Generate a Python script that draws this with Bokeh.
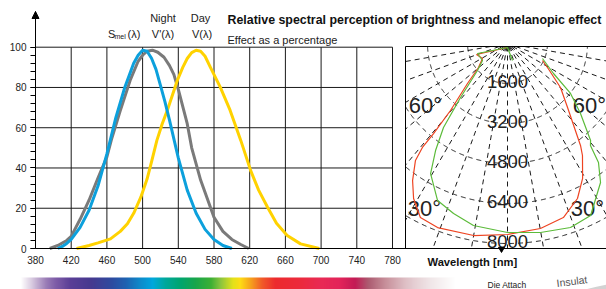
import numpy as np
from bokeh.plotting import figure
from bokeh.models import Range1d, FixedTicker, Arrow, NormalHead
from bokeh.core.properties import value
from bokeh.embed import file_html
from bokeh.resources import INLINE

# ---------------- data ----------------
WAVELENGTH_TICKS = [380, 420, 460, 500, 540, 580, 620, 660, 700, 740, 780]
EFFECT_TICKS = [0, 20, 40, 60, 80, 100]
EFFECT_MINOR = list(range(0, 101, 4))

# melanopic S_mel(lambda)
mel_nm = [405, 410, 415, 420, 430, 440, 450, 460, 470, 480, 490, 495, 500, 505, 510, 515,
          520, 525, 530, 540, 550, 560, 570, 580, 590, 600]
mel_val = [0, 1, 2.5, 4.5, 10.5, 19, 31, 47, 65, 80, 92, 96, 98.5, 98, 94.5, 89,
           81, 73, 64, 45, 29, 17.5, 9.5, 4.5, 1.5, 0]

# night V'(lambda)
night_nm = [396, 405, 415, 420, 430, 440, 450, 460, 465, 475, 486, 495, 500, 505, 511, 517,
            524, 530, 535, 540, 550, 555, 565, 580, 590, 600, 610, 619]
night_val = [0, 1.5, 4, 6, 14.5, 24, 35, 45.5, 54, 68.5, 83.5, 93, 96, 98, 98.5, 97.5,
             95, 91, 86.5, 79, 62, 50, 34, 15.5, 8.5, 4.5, 2, 0]

# day V(lambda)
day_nm = [426, 440, 450, 464, 475, 483, 490, 498, 505, 510, 516, 522, 528, 534, 539, 545,
          550, 555, 560, 565, 570, 576, 587, 598, 610, 621, 630, 640, 650, 662, 677, 698]
day_val = [0, 1.5, 2.8, 4.8, 8.5, 12.3, 17.5, 25.5, 34.5, 43, 53.7, 62, 69, 77, 83.6, 90,
           94.4, 97.3, 98.5, 98, 95.5, 90, 80.2, 68.7, 53.7, 38.8, 29, 20.5, 12.5, 6.5, 2.3, 0]

# colour band under the axis (wavelength position, colour)
spectrum_nm = [363.2, 374.4, 391.2, 402.4, 419.2, 441.6, 464.0, 480.8, 497.6, 511.1, 525.7,
               542.5, 559.3, 576.1, 587.3, 600.7, 609.7, 620.9, 634.3, 648.9, 676.9, 699.3,
               721.7, 738.5, 753.1, 772.2, 794.6, 822.6, 850.6]
spectrum_col = ["#ffffff", "#dccfe3", "#9b7db7", "#7d5ba7", "#5b3f97", "#47398f", "#2f4a9f",
                "#1f63b2", "#0d8dcd", "#00a8df", "#00a89c", "#00a56f", "#1aa64b", "#3db035",
                "#8dc63f", "#e4e21b", "#ffdd15", "#f7a51c", "#f15a29", "#ed2b2e", "#ec2a3d",
                "#e92a55", "#e3245a", "#c31b55", "#ad5b71", "#c8909b", "#dfc1c7", "#f0e6e8",
                "#ffffff"]

# light distribution curves (angle from nadir in degrees, intensity in cd)
red_angle = [0, -70.5, -59.0, -50.4, -45.0, -40.4, -39.4, -39.3, -38.2, -34.7, -31.2, -26.6,
             -20.8, -10.0, 0, 10.1, 17.8, 24.3, 29.1, 33.8, 35.6, 43.2, 50.3, 59.0, 64.1]
red_cd = [160, 1316, 1166, 1506, 2263, 3519, 4660, 5373, 5953, 6669, 7251, 7782,
          7875, 7800, 7640, 7517, 7312, 6803, 6177, 5391, 5017, 3509, 2755, 1866, 1556]
green_angle = [16.4, 0, -71.6, -55.8, -48.0, -41.0, -37.3, -33.9, -30.6, -24.0, -17.6, -10.6,
               0, 9.9, 18.9, 25.8, 33.8, 37.4, 39.1, 40.6, 46.2, 51.6, 56.9, 66.8]
green_cd = [709, 160, 1265, 1209, 1615, 2864, 4224, 5159, 6044, 6876, 7135, 7406,
            7560, 7675, 7780, 7640, 6690, 5992, 5260, 5107, 4045, 3217, 2197, 1523]

POLAR_RINGS = [1600, 3200, 4800, 6400, 8000]
POLAR_RING_LABELS = ["1600", "3200", "4800", "6400", "8000"]
POLAR_SPOKES = list(range(-80, 81, 10))
ANGLE_LABELS = ["60°", "60°", "30°", "30°"]

# ---------------- layout ----------------
W, H = 606, 289
PAGE = 0
AX_X_PX, AX_Y_PX = 35, 248          # page px of (380 nm, 0 %)
NM_PX, PCT_PX = 0.8925, 2.013
X0 = 380 - (AX_X_PX - PAGE) / NM_PX
X1 = 380 + (PAGE + W - AX_X_PX) / NM_PX
Y1 = (AX_Y_PX - PAGE) / PCT_PX
Y0 = -(PAGE + H - AX_Y_PX) / PCT_PX


def nm_at(px):
    return 380 + (px - AX_X_PX) / NM_PX


def pct_at(py):
    return (AX_Y_PX - py) / PCT_PX


# polar panel geometry
PC_X, PC_Y = 507, 43                 # page px of polar centre
CD_PX = 40.0                         # cd per pixel
PX0 = (PAGE - PC_X) * CD_PX
PX1 = (PAGE + W - PC_X) * CD_PX
PY1 = (PC_Y - PAGE) * CD_PX
PY0 = (PC_Y - PAGE - H) * CD_PX


def cx(px):
    return (px - PC_X) * CD_PX


def cy(py):
    return (PC_Y - py) * CD_PX


BOX_L, BOX_R, BOX_T, BOX_B = cx(405), PX1 + 400, cy(46), cy(248)

FONT = value("Liberation Sans")
INK = "#1a1a1a"

p = figure(width=W, height=H, x_range=Range1d(X0, X1), y_range=Range1d(Y0, Y1),
           output_backend="svg", toolbar_location=None, min_border=0,
           outline_line_color=None, background_fill_color="white",
           border_fill_color="white")
p.extra_x_ranges = {"polar": Range1d(PX0, PX1)}
p.extra_y_ranges = {"polar": Range1d(PY0, PY1)}
p.xgrid.visible = False
p.ygrid.visible = False

# colour band
N = 440
cols = np.linspace(spectrum_nm[0], spectrum_nm[-1], N)
stop_rgb = np.array([[int(c[i:i + 2], 16) for i in (1, 3, 5)] for c in spectrum_col], float)
img = np.empty((1, N), dtype=np.uint32)
view = img.view(dtype=np.uint8).reshape((1, N, 4))
for k in range(3):
    view[0, :, k] = np.interp(cols, spectrum_nm, stop_rgb[:, k]).astype(np.uint8)
view[0, :, 3] = 255
p.image_rgba(image=[img], x=spectrum_nm[0], y=Y0, dw=spectrum_nm[-1] - spectrum_nm[0],
             dh=pct_at(277) - Y0)

# grey swoosh + small texts at the bottom right
p.ellipse(x=[nm_at(614)], y=[pct_at(303)], width=[150], height=[40], angle=[0.17],
          width_units="screen", height_units="screen",
          fill_color="#d2d2d2", line_color=None)
p.text(x=[nm_at(556)], y=[pct_at(282.5)], text=["Insulat"], angle=[0.12],
       text_font=FONT, text_font_size="10.5px", text_color="#555555",
       text_baseline="alphabetic", text_align="left")
p.text(x=[nm_at(487)], y=[pct_at(284.5)], text=["Die Attach"], text_font=FONT,
       text_font_size="8.5px", text_color="#222222", text_baseline="middle", text_align="left")

# main grid
gx = WAVELENGTH_TICKS[1:]
p.segment(x0=gx, y0=[0] * len(gx), x1=gx, y1=[100] * len(gx), line_color=INK, line_width=1)
gy = EFFECT_TICKS[1:]
p.segment(x0=[380] * len(gy), y0=gy, x1=[780] * len(gy), y1=gy, line_color=INK, line_width=1)

# spectral curves
p.line(night_nm, night_val, line_color="#7a7a7a", line_width=3, line_join="round")
p.line(day_nm, day_val, line_color="#ffd200", line_width=3, line_join="round")
p.line(mel_nm, mel_val, line_color="#0ca0dc", line_width=3, line_join="round")

# axes
xa = p.xaxis[0]
xa.fixed_location = 0
xa.ticker = FixedTicker(ticks=WAVELENGTH_TICKS, minor_ticks=[])
xa.bounds = (380, X1)
xa.major_tick_out = 0
xa.major_tick_in = 0
xa.minor_tick_out = 0
xa.minor_tick_in = 0
xa.major_label_standoff = 7
xa.major_label_text_font = "Liberation Sans"
xa.major_label_text_font_size = "10px"
xa.major_label_text_color = "#222222"
xa.axis_line_color = "black"

ya = p.yaxis[0]
ya.fixed_location = 380
ya.ticker = FixedTicker(ticks=EFFECT_TICKS, minor_ticks=EFFECT_MINOR)
Y_TIP = pct_at(11)
ya.bounds = (0, Y_TIP)
ya.major_tick_out = 5
ya.major_tick_in = 0
ya.minor_tick_out = 5
ya.minor_tick_in = 0
ya.major_label_standoff = 4
ya.major_label_text_font = "Liberation Sans"
ya.major_label_text_font_size = "10px"
ya.major_label_text_color = "#222222"
ya.axis_line_color = "black"
p.add_layout(Arrow(end=NormalHead(size=7, fill_color="black", line_color="black", line_width=1),
                   x_start=380, y_start=100, x_end=380, y_end=Y_TIP,
                   line_color="black", line_width=1))

# curve names and titles
p.text(x=[nm_at(162.5), nm_at(200)], y=[pct_at(17.5)] * 2, text=["Night", "Day"],
       text_font=FONT, text_font_size="11px", text_color="#222222",
       text_align="center", text_baseline="middle")
p.text(x=[nm_at(162.5), nm_at(201.5)], y=[pct_at(33)] * 2, text=["V'(λ)", "V(λ)"],
       text_font=FONT, text_font_size="11px", text_color="#222222",
       text_align="center", text_baseline="middle")
p.text(x=[nm_at(107.5), nm_at(127)], y=[pct_at(33)] * 2, text=["S", "(λ)"],
       text_font=FONT, text_font_size="11px", text_color="#222222",
       text_align="left", text_baseline="middle")
p.text(x=[nm_at(114)], y=[pct_at(36)], text=["mel"],
       text_font=FONT, text_font_size="7px", text_color="#222222",
       text_align="left", text_baseline="middle")
p.text(x=[nm_at(227)], y=[pct_at(19.5)],
       text=["Relative spectral perception of brightness  and melanopic effect"],
       text_font=FONT, text_font_size="12.4px", text_font_style="bold", text_color="#111111",
       text_align="left", text_baseline="middle")
p.text(x=[nm_at(227)], y=[pct_at(39)], text=["Effect as a percentage"],
       text_font=FONT, text_font_size="11px", text_color="#222222",
       text_align="left", text_baseline="middle")
p.text(x=[nm_at(427)], y=[pct_at(261)], text=["Wavelength [nm]"],
       text_font=FONT, text_font_size="11.2px", text_font_style="bold", text_color="#111111",
       text_align="left", text_baseline="middle")

# ---------------- polar panel ----------------
POL = dict(x_range_name="polar", y_range_name="polar")


def clip_ray(dx, dy, tmax):
    t0, t1 = 0.0, tmax
    for pp, qq in ((-dx, -BOX_L), (dx, BOX_R), (-dy, -BOX_B), (dy, BOX_T)):
        if abs(pp) < 1e-12:
            if qq < 0:
                return None
        else:
            r = qq / pp
            if pp < 0:
                t0 = max(t0, r)
            else:
                t1 = min(t1, r)
    if t0 >= t1:
        return None
    return t0, t1


sx0, sy0, sx1, sy1 = [], [], [], []
for a in POLAR_SPOKES:
    dx, dy = np.sin(np.radians(a)), -np.cos(np.radians(a))
    res = clip_ray(dx, dy, 20000.0)
    if res:
        sx0.append(res[0] * dx); sy0.append(res[0] * dy)
        sx1.append(res[1] * dx); sy1.append(res[1] * dy)
p.segment(x0=sx0, y0=sy0, x1=sx1, y1=sy1, line_color=INK, line_width=1,
          line_dash="5 4", **POL)

th = np.radians(np.linspace(-90, 90, 721))
for r in POLAR_RINGS:
    ax_ = r * np.sin(th)
    ay_ = -r * np.cos(th)
    inside = (ax_ >= BOX_L) & (ax_ <= BOX_R) & (ay_ <= BOX_T) & (ay_ >= BOX_B)
    ax_ = np.where(inside, ax_, np.nan)
    ay_ = np.where(inside, ay_, np.nan)
    p.line(ax_, ay_, line_color=INK, line_width=1, line_dash="5 4", **POL)

# panel frame (left + top edges)
p.line([BOX_R, BOX_L, BOX_L], [BOX_T, BOX_T, BOX_B], line_color="black", line_width=1, **POL)

# ring labels
p.text(x=[0] * len(POLAR_RINGS), y=[-r for r in POLAR_RINGS], text=POLAR_RING_LABELS,
       y_offset=-2, text_font=FONT, text_font_size="18.5px", text_color="#222222",
       text_align="center", text_baseline="middle", **POL)
p.text(x=[cx(425), cx(589), cx(424), cx(587)], y=[cy(105), cy(105), cy(208), cy(208)],
       text=ANGLE_LABELS, text_font=FONT, text_font_size="22px", text_color="#222222",
       text_align="center", text_baseline="middle", **POL)
p.scatter(x=[cx(501)], y=[cy(248.5)], marker="inverted_triangle", size=6,
          fill_color="black", line_color="black", **POL)

# light distribution curves
ra = np.radians(red_angle)
p.line(np.array(red_cd) * np.sin(ra), -np.array(red_cd) * np.cos(ra),
       line_color="#ee4422", line_width=1.2, **POL)
ga = np.radians(green_angle)
p.line(np.array(green_cd) * np.sin(ga), -np.array(green_cd) * np.cos(ga),
       line_color="#5cbb3a", line_width=1.2, **POL)

open("out.html", "w").write(file_html(p, INLINE))
